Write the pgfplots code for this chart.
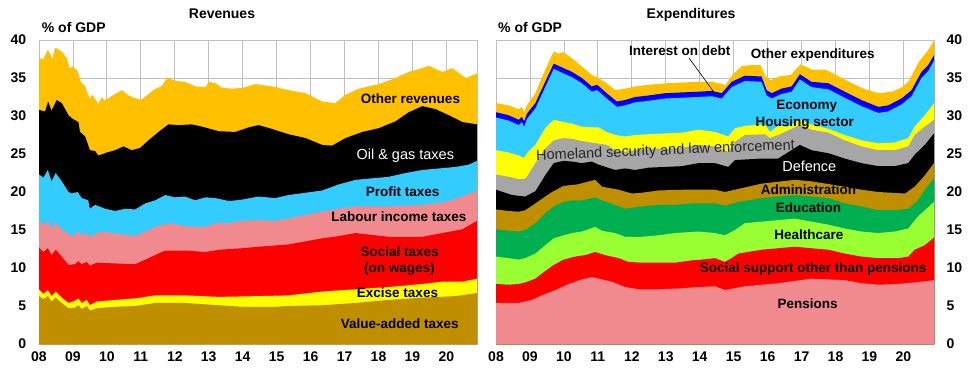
\documentclass[border=0pt]{standalone}
\usepackage{fontspec}
\setmainfont{Liberation Sans}
\usepackage{pgfplots}
\pgfplotsset{compat=1.18}
\usepackage{pgfplotstable}

\definecolor{cOther}{HTML}{FFC000}
\definecolor{cCyan}{HTML}{33CCFF}
\definecolor{cPink}{HTML}{F08A8E}
\definecolor{cRed}{HTML}{FF0000}
\definecolor{cYellow}{HTML}{FFFF00}
\definecolor{cBrown}{HTML}{BF8F00}
\definecolor{cBlue}{HTML}{0000FF}
\definecolor{cGrey}{HTML}{A6A6A6}
\definecolor{cGreen}{HTML}{00B050}
\definecolor{cLime}{HTML}{99FF33}
\definecolor{gridgray}{HTML}{C0C0C0}

\newcommand{\labB}{\fontsize{13.5}{15}\selectfont\bfseries}
\newcommand{\labR}{\fontsize{14.5}{16}\selectfont}
\newcommand{\titF}{\fontsize{14}{16}\selectfont\bfseries}

% ---------------- Revenues: cumulative tops of each layer ----------------
\pgfplotstableread{
x y
2008.00 6.3
2008.13 5.9
2008.26 6.3
2008.37 5.6
2008.49 6.1
2008.67 5.4
2008.87 4.7
2009.06 4.8
2009.16 5.1
2009.26 4.6
2009.41 5.0
2009.50 4.4
2009.70 4.7
2010.24 4.9
2010.83 5.0
2011.42 5.4
2012.30 5.4
2013.29 5.1
2013.98 4.9
2014.96 4.9
2015.35 5.0
2016.34 5.1
2017.32 5.4
2018.30 5.8
2019.29 6.1
2020.27 6.3
2020.90 6.7
}\revVAT
\pgfplotstableread{
x y
2008.00 7.2
2008.13 6.6
2008.26 7.1
2008.37 6.3
2008.49 6.9
2008.67 6.1
2008.87 5.4
2009.06 5.7
2009.16 6.0
2009.26 5.4
2009.41 5.8
2009.50 5.1
2009.70 5.6
2010.24 5.8
2010.83 6.0
2011.13 6.2
2011.42 6.4
2012.30 6.4
2013.29 6.2
2014.47 6.3
2015.35 6.4
2016.34 6.9
2017.32 7.2
2018.30 7.5
2019.29 7.9
2019.88 8.2
2020.47 8.2
2020.90 8.6
}\revExcise
\pgfplotstableread{
x y
2008.00 12.7
2008.13 12.1
2008.26 12.6
2008.37 11.7
2008.49 12.4
2008.67 11.5
2008.87 10.4
2009.06 10.5
2009.16 10.9
2009.26 10.5
2009.41 10.8
2009.50 10.3
2009.70 10.7
2010.24 10.6
2010.83 10.5
2011.13 11.1
2011.42 11.7
2011.72 12.3
2012.30 12.3
2012.90 12.1
2013.29 12.4
2013.98 12.6
2014.47 12.8
2015.35 13.1
2016.34 13.9
2016.83 14.2
2017.32 14.6
2018.30 14.1
2019.29 14.1
2019.88 14.6
2020.47 15.1
2020.90 16.2
}\revSocial
\pgfplotstableread{
x y
2008.00 16.2
2008.13 15.7
2008.26 16.2
2008.37 15.2
2008.49 16.0
2008.67 15.0
2008.87 14.6
2008.94 14.1
2009.16 14.8
2009.26 14.3
2009.41 14.6
2009.50 14.1
2009.70 14.6
2009.95 14.8
2010.24 14.5
2010.54 14.4
2010.83 14.2
2011.03 14.6
2011.32 15.2
2011.62 15.7
2011.91 15.9
2012.30 15.5
2012.90 15.4
2013.19 15.9
2013.58 15.9
2013.98 16.2
2014.47 16.3
2014.96 16.2
2015.35 16.5
2015.85 17.0
2016.34 17.4
2016.83 17.8
2017.32 18.1
2018.30 18.1
2019.29 18.3
2019.98 18.7
2020.47 19.4
2020.90 20.2
}\revLabour
\pgfplotstableread{
x y
2008.00 22.3
2008.13 21.9
2008.26 22.9
2008.37 21.4
2008.49 22.5
2008.67 21.4
2008.87 20.0
2008.96 19.8
2009.14 20.0
2009.26 19.2
2009.45 18.9
2009.50 17.8
2009.65 18.3
2009.95 17.8
2010.24 17.5
2010.54 17.8
2010.83 17.7
2011.13 18.5
2011.42 18.9
2011.72 19.6
2012.00 19.3
2012.30 19.4
2012.60 18.9
2012.90 19.3
2013.20 19.2
2013.60 18.8
2013.98 19.0
2014.46 19.4
2014.96 19.2
2015.35 19.6
2015.85 19.9
2016.34 20.2
2016.83 21.0
2017.32 21.6
2017.81 21.8
2018.30 22.0
2018.80 22.5
2019.29 22.9
2019.78 23.1
2020.27 23.3
2020.66 23.6
2020.90 24.1
}\revProfit
\pgfplotstableread{
x y
2008.00 30.8
2008.18 30.6
2008.27 31.9
2008.37 30.7
2008.52 32.1
2008.67 31.7
2008.87 30.1
2009.00 29.6
2009.16 29.2
2009.21 27.9
2009.36 27.3
2009.50 25.5
2009.65 25.4
2009.75 24.8
2010.00 25.2
2010.24 25.5
2010.49 26.0
2010.73 25.5
2010.98 25.8
2011.22 26.8
2011.52 27.9
2011.81 28.9
2012.11 28.8
2012.50 28.9
2012.80 28.6
2013.29 28.0
2013.78 27.9
2014.17 28.5
2014.47 28.8
2014.86 28.3
2015.35 27.6
2015.85 27.1
2016.34 26.2
2016.63 26.1
2017.03 27.1
2017.52 27.9
2018.01 28.4
2018.50 29.3
2018.89 30.5
2019.29 31.3
2019.68 30.9
2020.07 30.1
2020.47 29.2
2020.90 28.9
}\revOil
\pgfplotstableread{
x y
2008.00 37.6
2008.13 37.5
2008.26 38.7
2008.33 38.2
2008.39 37.5
2008.47 39.0
2008.67 38.5
2008.82 37.6
2008.90 36.3
2008.99 36.5
2009.13 36.0
2009.23 34.5
2009.36 33.9
2009.49 32.3
2009.57 32.8
2009.75 31.6
2009.85 32.5
2009.92 32.1
2010.00 32.2
2010.20 32.8
2010.45 33.4
2010.60 32.8
2010.80 32.4
2011.00 32.1
2011.20 32.8
2011.40 33.5
2011.60 33.9
2011.78 35.0
2012.05 34.6
2012.30 34.5
2012.60 33.9
2012.90 33.8
2013.00 34.5
2013.20 34.3
2013.40 33.7
2013.70 33.6
2014.00 33.7
2014.37 34.2
2014.86 33.9
2015.35 33.4
2015.85 33.0
2016.34 31.9
2016.73 31.7
2017.03 32.8
2017.42 33.6
2018.01 34.2
2018.50 35.0
2018.89 35.8
2019.29 36.3
2019.48 36.6
2019.88 35.8
2020.17 36.3
2020.57 35.0
2020.90 35.6
}\revOther

% ---------------- Expenditures: cumulative tops of each layer ----------------
\pgfplotstableread{
x y
2008.00 5.4
2008.67 5.4
2009.06 5.8
2009.35 6.4
2009.75 7.1
2010.14 7.9
2010.53 8.5
2010.82 8.8
2011.02 8.6
2011.41 8.2
2011.80 7.5
2012.20 7.2
2012.78 7.2
2013.37 7.3
2013.96 7.5
2014.45 7.6
2014.74 7.1
2015.33 7.6
2016.31 8.0
2017.29 8.6
2018.27 8.4
2018.76 8.0
2019.26 7.8
2019.85 7.9
2020.33 8.1
2020.90 8.4
}\expPens
\pgfplotstableread{
x y
2008.00 7.9
2008.37 7.8
2008.67 7.9
2008.86 8.1
2009.16 8.6
2009.45 9.6
2009.70 10.4
2009.99 11.1
2010.33 11.5
2010.63 11.7
2010.92 12.1
2011.21 11.7
2011.61 11.3
2011.90 10.8
2012.29 10.7
2012.78 10.7
2013.27 10.7
2013.76 11.0
2014.04 11.1
2014.45 11.3
2014.74 10.8
2014.94 11.3
2015.14 11.9
2015.82 12.4
2016.80 12.8
2017.29 12.6
2017.79 12.4
2018.27 11.9
2018.76 11.5
2019.26 11.3
2019.85 11.3
2020.14 11.5
2020.33 12.4
2020.63 13.0
2020.90 14.0
}\expSocial
\pgfplotstableread{
x y
2008.00 11.5
2008.37 11.3
2008.67 11.1
2008.86 11.3
2009.16 11.9
2009.45 13.0
2009.70 13.9
2009.99 14.3
2010.24 14.6
2010.53 14.8
2010.92 15.4
2011.12 14.9
2011.51 14.6
2011.80 14.1
2012.29 14.1
2012.78 14.3
2013.27 14.6
2013.96 14.8
2014.45 14.6
2014.74 14.3
2015.04 15.0
2015.33 15.9
2015.82 16.1
2016.80 16.5
2017.29 16.1
2017.79 15.7
2018.27 15.2
2018.76 14.8
2019.26 14.6
2019.74 14.8
2020.14 15.2
2020.43 16.8
2020.90 18.7
}\expHealth
\pgfplotstableread{
x y
2008.00 15.1
2008.37 14.9
2008.67 14.8
2008.86 15.0
2009.16 15.9
2009.45 17.2
2009.70 18.1
2009.99 18.7
2010.24 18.9
2010.53 18.9
2010.92 19.3
2011.12 18.9
2011.51 18.3
2011.80 17.8
2012.29 18.1
2012.78 18.3
2013.27 18.3
2013.76 18.5
2014.45 18.5
2014.74 18.2
2015.14 18.7
2015.82 19.2
2016.80 19.6
2017.29 19.4
2017.79 19.2
2018.27 18.5
2018.76 18.1
2019.26 17.6
2019.74 17.6
2020.14 17.8
2020.43 18.9
2020.63 20.3
2020.90 21.8
}\expEdu
\pgfplotstableread{
x y
2008.00 17.7
2008.37 17.5
2008.67 17.4
2008.86 17.6
2009.16 18.5
2009.45 19.4
2009.65 20.0
2009.99 20.8
2010.40 21.0
2010.92 21.6
2011.12 20.7
2011.61 20.3
2012.00 19.8
2012.29 19.9
2012.78 20.2
2013.50 20.3
2014.45 20.3
2014.74 20.0
2015.82 21.1
2016.80 21.6
2017.29 21.4
2018.27 20.7
2018.76 20.3
2019.26 20.0
2020.05 19.8
2020.33 20.7
2020.63 22.2
2020.90 23.8
}\expAdmin
\pgfplotstableread{
x y
2008.00 20.3
2008.47 19.6
2008.86 19.4
2009.16 20.1
2009.45 22.2
2009.70 23.8
2009.99 24.1
2010.24 24.0
2010.53 23.8
2010.82 24.0
2011.02 23.6
2011.51 22.9
2011.80 23.1
2012.10 22.9
2012.49 23.2
2012.98 23.3
2013.47 23.4
2013.96 23.8
2014.45 23.8
2014.84 23.3
2015.04 24.2
2015.82 24.4
2016.31 24.4
2016.95 26.2
2017.29 25.5
2017.79 25.1
2018.27 24.4
2018.76 23.8
2019.26 23.4
2019.74 23.4
2020.14 23.8
2020.33 24.9
2020.63 26.2
2020.90 27.7
}\expDef
\pgfplotstableread{
x y
2008.00 22.3
2008.37 22.0
2008.67 21.7
2008.83 21.7
2008.91 22.0
2009.16 23.8
2009.45 25.7
2009.70 26.8
2009.99 27.1
2010.24 27.0
2010.53 26.7
2010.82 26.5
2011.26 26.2
2011.51 25.5
2011.80 25.3
2012.10 25.5
2012.49 25.7
2012.98 25.7
2013.47 25.8
2013.96 26.2
2014.45 26.0
2014.84 25.3
2015.04 26.6
2015.33 27.5
2015.92 27.6
2016.07 27.1
2016.31 27.5
2016.95 28.8
2017.29 28.2
2017.79 27.8
2018.27 26.8
2018.76 26.0
2019.26 25.5
2019.74 25.5
2020.14 26.0
2020.33 27.5
2020.63 28.6
2020.90 29.5
}\expHome
\pgfplotstableread{
x y
2008.00 25.5
2008.37 25.2
2008.67 24.8
2008.83 24.5
2008.91 25.1
2009.16 26.2
2009.45 28.4
2009.70 29.5
2009.99 29.2
2010.24 29.0
2010.53 28.6
2010.82 28.5
2011.02 28.5
2011.26 27.9
2011.51 27.5
2011.80 27.3
2012.10 27.5
2012.49 27.6
2012.98 27.7
2013.47 27.8
2013.96 28.2
2014.45 27.9
2014.84 27.3
2015.04 28.4
2015.33 28.7
2015.92 28.9
2016.07 27.9
2016.31 28.7
2016.60 28.6
2016.95 29.5
2017.29 28.9
2017.79 28.3
2018.27 27.5
2018.76 26.8
2019.26 26.4
2019.74 26.5
2020.14 27.1
2020.33 28.6
2020.63 30.1
2020.90 31.7
}\expHousing
\pgfplotstableread{
x y
2008.00 29.8
2008.37 29.4
2008.67 28.8
2008.76 29.2
2008.83 28.6
2008.91 29.6
2009.16 31.0
2009.45 33.8
2009.70 36.2
2009.84 35.9
2010.24 35.1
2010.53 34.3
2010.82 33.2
2010.98 33.4
2011.26 32.3
2011.56 31.2
2011.80 31.4
2012.10 31.8
2012.49 32.0
2012.98 32.3
2013.47 32.4
2013.96 32.5
2014.35 32.6
2014.65 32.3
2014.94 33.8
2015.33 34.6
2015.82 34.5
2015.97 32.7
2016.12 32.3
2016.41 32.9
2016.71 33.2
2016.95 34.8
2017.29 33.8
2017.79 33.5
2018.27 32.4
2018.76 31.3
2019.26 30.4
2019.55 30.6
2019.94 31.5
2020.24 32.6
2020.53 35.0
2020.73 35.9
2020.90 37.3
}\expEcon
\pgfplotstableread{
x y
2008.00 30.5
2008.37 30.1
2008.67 29.5
2008.76 29.9
2008.83 29.3
2008.91 30.3
2009.16 31.7
2009.45 34.5
2009.70 36.9
2009.84 36.6
2010.24 35.8
2010.53 35.0
2010.82 33.9
2010.98 34.1
2011.26 33.0
2011.56 31.9
2011.80 32.1
2012.10 32.5
2012.49 32.7
2012.98 33.0
2013.47 33.1
2013.96 33.2
2014.35 33.3
2014.65 33.0
2014.94 34.5
2015.33 35.3
2015.82 35.2
2015.97 33.4
2016.12 33.0
2016.41 33.6
2016.71 33.9
2016.95 35.5
2017.29 34.5
2017.79 34.3
2018.27 33.2
2018.76 32.1
2019.26 31.2
2019.55 31.4
2019.94 32.3
2020.24 33.4
2020.53 35.8
2020.73 36.7
2020.90 38.0
}\expInt
\pgfplotstableread{
x y
2008.00 31.7
2008.37 31.4
2008.67 30.9
2008.76 31.2
2008.83 30.5
2008.91 31.4
2009.16 33.0
2009.45 36.1
2009.70 38.5
2009.84 38.2
2009.99 38.4
2010.24 37.6
2010.53 36.5
2010.82 35.4
2011.02 35.0
2011.26 34.3
2011.51 33.4
2011.80 33.6
2012.10 33.9
2012.49 34.1
2012.98 34.3
2013.47 34.4
2013.96 34.5
2014.35 34.5
2014.76 34.1
2014.96 35.4
2015.25 36.6
2015.55 36.7
2015.79 36.7
2015.94 35.2
2016.09 34.7
2016.33 35.2
2016.68 35.4
2016.97 36.8
2017.31 36.1
2017.71 36.1
2018.10 35.2
2018.49 34.3
2018.88 33.5
2019.27 33.0
2019.67 33.2
2019.96 33.8
2020.16 34.6
2020.45 37.1
2020.70 38.5
2020.90 39.9
}\expOther

\pgfplotsset{panel/.style={
  scale only axis, width=438pt, height=304pt,
  xmin=2008, xmax=2020.9, ymin=0, ymax=40,
  xtick={2008,...,2020},
  xticklabels={08,09,10,11,12,13,14,15,16,17,18,19,20},
  ytick={0,5,...,40},
  grid=major, grid style={draw=gridgray, line width=0.8pt},
  major tick length=0pt,
  axis line style={draw=gridgray, line width=0.8pt},
  tick label style={font=\fontsize{14}{16}\selectfont\bfseries},
  /pgf/number format/assume math mode=true,
  xticklabel style={yshift=-4.5pt},
}}
\newcommand{\area}[2]{\addplot[fill=#1, draw=none] table[x=x,y=y]{#2} \closedcycle;}

\begin{document}
\begin{tikzpicture}
\path[use as bounding box] (0,0) rectangle (976pt,-369pt);

\begin{axis}[panel, at={(39pt,-40pt)}, anchor=north west,
  yticklabel style={xshift=-9.3pt}]
\area{cOther}{\revOther}
\area{black}{\revOil}
\area{cCyan}{\revProfit}
\area{cPink}{\revLabour}
\area{cRed}{\revSocial}
\area{cYellow}{\revExcise}
\area{cBrown}{\revVAT}
\end{axis}

\begin{axis}[panel, at={(496pt,-40pt)}, anchor=north west,
  yticklabel pos=right, yticklabel style={xshift=9pt}]
\area{cOther}{\expOther}
\area{cBlue}{\expInt}
\area{cCyan}{\expEcon}
\area{cYellow}{\expHousing}
\area{cGrey}{\expHome}
\area{black}{\expDef}
\area{cBrown}{\expAdmin}
\area{cGreen}{\expEdu}
\area{cLime}{\expHealth}
\area{cRed}{\expSocial}
\area{cPink}{\expPens}
\end{axis}

\begin{scope}[every node/.style={inner sep=0pt, anchor=base}]
% titles
\node[font=\titF] at (222pt,-19pt) {Revenues};
\node[font=\titF, anchor=base west] at (41.7pt,-33pt) {\% of GDP};
\node[font=\titF] at (691pt,-19pt) {Expenditures};
\node[font=\titF, anchor=base west] at (498pt,-33pt) {\% of GDP};
% revenue labels
\node[font=\labB] at (410.5pt,-103.3pt) {Other revenues};
\node[font=\labR, text=white] at (405.3pt,-159pt) {Oil \& gas taxes};
\node[font=\labB] at (402.7pt,-196pt) {Profit taxes};
\node[font=\labB] at (398.8pt,-221.7pt) {Labour income taxes};
\node[font=\labB] at (399.7pt,-256pt) {Social taxes};
\node[font=\labB] at (399.3pt,-272.5pt) {(on wages)};
\node[font=\labB] at (397.5pt,-297.7pt) {Excise taxes};
\node[font=\labB] at (399.7pt,-328.3pt) {Value-added taxes};
% expenditure labels
\node[font=\labB] at (679.8pt,-55.7pt) {Interest on debt};
\node[font=\labB] at (812.7pt,-58.3pt) {Other expenditures};
\node[font=\labB] at (806.8pt,-109.3pt) {Economy};
\node[font=\labB] at (804.8pt,-126pt) {Housing sector};
\node[font=\labR, text=black!85, anchor=center, rotate=2.4] at (665.5pt,-151.2pt) {Homeland security and law enforcement};
\node[font=\labR, text=white] at (809.3pt,-171.7pt) {Defence};
\node[font=\labB] at (808.5pt,-194pt) {Administration};
\node[font=\labB] at (808.5pt,-212.7pt) {Education};
\node[font=\labB] at (808.8pt,-239.3pt) {Healthcare};
\node[font=\labB] at (813pt,-272.7pt) {Social support other than pensions};
\node[font=\labB] at (807.7pt,-308.3pt) {Pensions};
\end{scope}
\draw[black, line width=0.6pt] (689pt,-58pt) -- (716pt,-95pt);
\end{tikzpicture}
\end{document}
